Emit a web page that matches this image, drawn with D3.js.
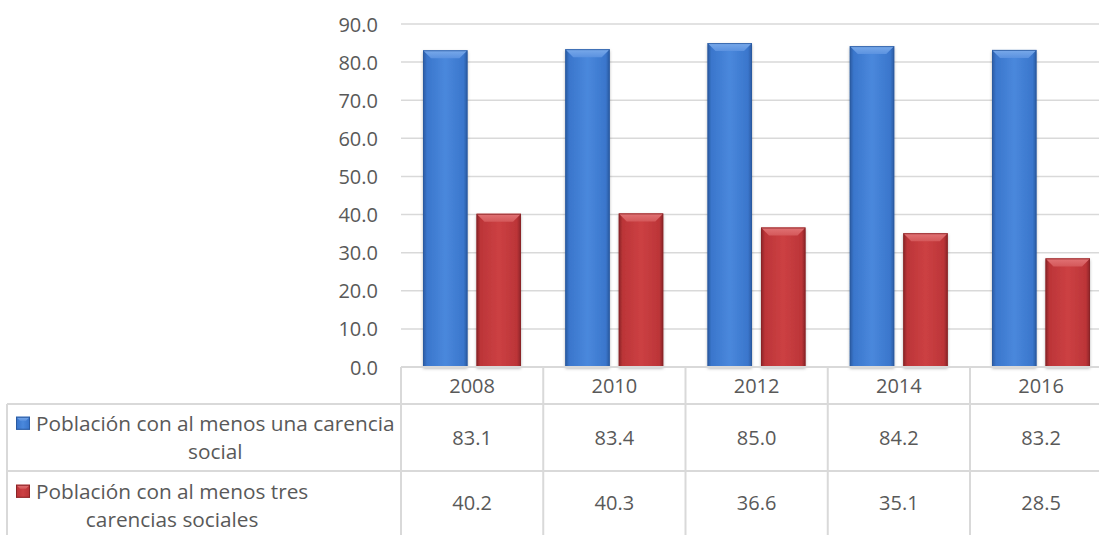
<!DOCTYPE html>
<html><head><meta charset="utf-8">
<script src="https://cdn.jsdelivr.net/npm/d3@7"></script>
<style>
html,body{margin:0;padding:0;background:#fff;}
svg{display:block;font-family:"Open Sans",sans-serif;}
</style></head>
<body>
<svg id="chart" width="1099" height="535"></svg>
<script>
const years = ["2008","2010","2012","2014","2016"];
const seriesNames = ["Población con al menos una carencia social","Población con al menos tres carencias sociales"];
const seriesLines = [["Población con al menos una carencia","social"],["Población con al menos tres","carencias sociales"]];
const serie1 = [83.1,83.4,85.0,84.2,83.2];
const serie2 = [40.2,40.3,36.6,35.1,28.5];
const yTicks = [0,10,20,30,40,50,60,70,80,90];

const svg = d3.select("#chart");
const W = 1099, H = 535;
const plotLeft = 401, colW = 142.25;
const plotRight = plotLeft + colW*5;
const y0 = 367, y90 = 24;
const rowYear = [367,404], row1 = [404,471], row2 = [471,545];
const tableLeft = 7;
const gridC = "#d9d9d9", textC = "#595959";
const fs = 20, fsLeg = 20.8;

const palettes = [
  {edge:"#2a5aa0", mid:"#3a76cc", light:"#4a88dc", bevel:"#7aaaea", bevelEdge:"#5b92e0"},
  {edge:"#8a2427", mid:"#bc3538", light:"#cc4043", bevel:"#e27476", bevelEdge:"#d4585a"}
];
const defs = svg.append("defs");
palettes.forEach((p,i)=>{
  const g = defs.append("linearGradient").attr("id","body"+i).attr("x1","0").attr("x2","1").attr("y1","0").attr("y2","0");
  [[0,p.edge],[0.09,p.mid],[0.5,p.light],[0.91,p.mid],[1,p.edge]].forEach(s=>g.append("stop").attr("offset",s[0]).attr("stop-color",s[1]));
  const b = defs.append("linearGradient").attr("id","bev"+i).attr("x1","0").attr("x2","0").attr("y1","0").attr("y2","1");
  b.append("stop").attr("offset",0).attr("stop-color",p.bevel);
  b.append("stop").attr("offset",1).attr("stop-color",p.bevelEdge);
});
const f = defs.append("filter").attr("id","shadow").attr("x","-20%").attr("y","-5%").attr("width","140%").attr("height","115%");
f.append("feDropShadow").attr("dx",0).attr("dy",1.5).attr("stdDeviation",1.5).attr("flood-color","#000").attr("flood-opacity",0.3);

const x = d3.scaleBand().domain(years).range([plotLeft, plotRight]).padding(0);
const xs = d3.scaleBand().domain([0,1]).range([22,120]).paddingInner(0.168).paddingOuter(0);
const y = d3.scaleLinear().domain([0,90]).range([y0,y90]);

// gridlines
svg.append("g").selectAll("line").data(yTicks.filter(t=>t>0)).join("line")
  .attr("x1",plotLeft).attr("x2",plotRight).attr("y1",d=>y(d)).attr("y2",d=>y(d))
  .attr("stroke",gridC).attr("stroke-width",1.5);

// y axis labels
const yAxis = d3.axisLeft(y).tickValues(yTicks).tickFormat(d3.format(".1f")).tickSize(0).tickPadding(0);
const ya = svg.append("g").attr("transform",`translate(378,0)`).call(yAxis);
ya.select(".domain").remove();
ya.selectAll("text").attr("font-size",fs).attr("fill",textC).attr("font-family","Open Sans").attr("dy","0.35em");

// bars
const data = [];
years.forEach((yr,i)=>{ data.push({yr,s:0,v:serie1[i]}); data.push({yr,s:1,v:serie2[i]}); });
const bars = svg.append("g").selectAll("g").data(data).join("g")
  .attr("transform",d=>`translate(${x(d.yr)+xs(d.s)},0)`);
const bw = xs.bandwidth();
bars.append("rect").attr("x",0).attr("y",d=>y(d.v)).attr("width",bw).attr("height",d=>y0-y(d.v))
  .attr("fill",d=>`url(#body${d.s})`).attr("filter","url(#shadow)");
const bev = 8;
bars.append("polygon").attr("points",d=>{
  const t=y(d.v);
  return `0,${t} ${bw},${t} ${bw-bev},${t+bev} ${bev},${t+bev}`;
}).attr("fill",d=>`url(#bev${d.s})`);
bars.append("rect").attr("x",0.5).attr("y",d=>y(d.v)+0.5).attr("width",bw-1).attr("height",d=>y0-y(d.v)-1)
  .attr("fill","none").attr("stroke",d=>palettes[d.s].edge).attr("stroke-width",1).attr("stroke-opacity",0.8);

// table lines
const tl = svg.append("g").attr("stroke",gridC).attr("stroke-width",2);
tl.append("line").attr("x1",plotLeft).attr("x2",plotRight).attr("y1",rowYear[0]).attr("y2",rowYear[0]);
tl.append("line").attr("x1",tableLeft).attr("x2",plotRight).attr("y1",row1[0]).attr("y2",row1[0]);
tl.append("line").attr("x1",tableLeft).attr("x2",plotRight).attr("y1",row2[0]).attr("y2",row2[0]);
tl.append("line").attr("x1",tableLeft).attr("x2",tableLeft).attr("y1",row1[0]).attr("y2",H);
tl.selectAll(".v").data(years.concat(["end"])).join("line").attr("class","v")
  .attr("x1",(d,i)=>plotLeft+i*colW).attr("x2",(d,i)=>plotLeft+i*colW).attr("y1",rowYear[0]).attr("y2",H);

// year labels via bottom axis
const xAxis = d3.axisBottom(x).tickSize(0).tickPadding(0);
const xa = svg.append("g").attr("transform",`translate(0,${(rowYear[0]+rowYear[1])/2})`).call(xAxis);
xa.select(".domain").remove();
xa.selectAll("text").attr("font-size",fs).attr("fill",textC).attr("font-family","Open Sans").attr("dy","0.35em");

// values
const vals = [serie1, serie2];
const rows = [row1, [471,535]];
vals.forEach((arr,si)=>{
  svg.append("g").selectAll("text").data(arr).join("text")
    .attr("x",(d,i)=>x(years[i])+x.bandwidth()/2)
    .attr("y",(rows[si][0]+rows[si][1])/2).attr("dy","0.35em")
    .attr("text-anchor","middle").attr("font-size",fs).attr("fill",textC)
    .text(d=>d3.format(".1f")(d));
});

// legend cells
const rowCenters = [437.5, 505.5];
seriesLines.forEach((lines,si)=>{
  const g = svg.append("g");
  const ts = lines.map((l,li)=>g.append("text").attr("font-size",fsLeg).attr("fill",textC).text(l));
  const widths = ts.map(t=>t.node().getComputedTextLength());
  const maxW = Math.max(...widths);
  const left = 36, cx = left + maxW/2;
  const lh = 28.5;
  ts.forEach((t,li)=>{
    t.attr("x",cx).attr("text-anchor","middle")
     .attr("y",rowCenters[si] + (li-0.5)*lh).attr("dy","0.35em");
  });
  const firstLeft = cx - widths[0]/2;
  const iy = rowCenters[si] - 0.5*lh;
  const ic = g.append("g").attr("transform",`translate(${firstLeft-20},${iy-6.5})`);
  ic.append("rect").attr("width",14).attr("height",13).attr("fill",`url(#body${si})`);
  ic.append("polygon").attr("points","0,0 14,0 10,4 4,4").attr("fill",`url(#bev${si})`);
  ic.append("rect").attr("x",0.5).attr("y",0.5).attr("width",13).attr("height",12).attr("fill","none").attr("stroke",palettes[si].edge).attr("stroke-width",1);
});
</script>
</body></html>
